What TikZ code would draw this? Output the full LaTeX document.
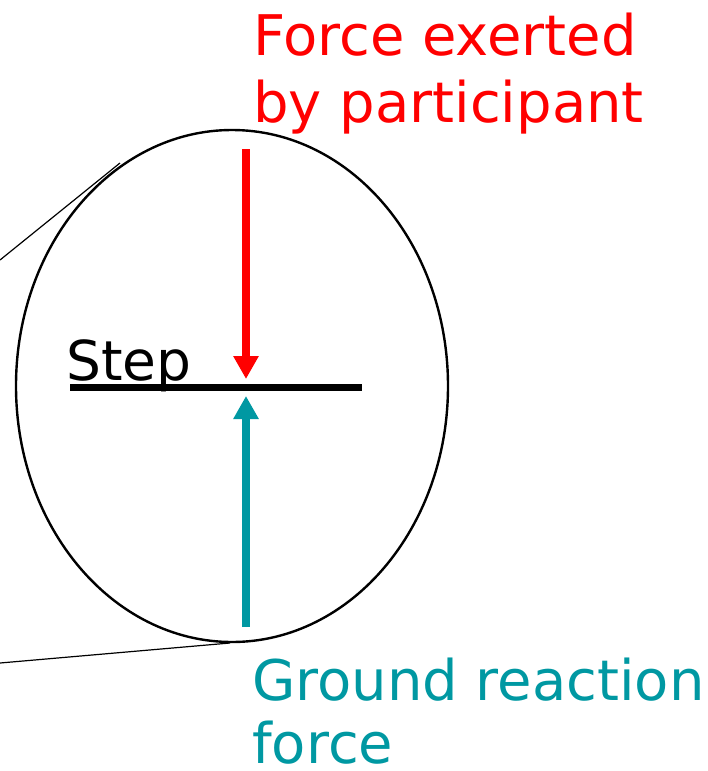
\documentclass[tikz,border=0pt]{standalone}
\usepackage{fontspec}
\setmainfont{DejaVu Sans}
\usetikzlibrary{arrows.meta}
\definecolor{forcered}{RGB}{255,0,0}
\definecolor{grfteal}{RGB}{0,152,162}
\begin{document}
\begin{tikzpicture}[x=1pt,y=-1pt,
  bigtext/.style={font=\fontsize{56}{66}\selectfont,inner sep=0pt,anchor=base west,text depth=0pt},
  forcearrow/.style={line width=8pt,-{Triangle[length=23pt,width=24pt]}},
  zoomline/.style={line width=1.2pt}]
\useasboundingbox (0,0) rectangle (708,771);
% magnified ellipse
\draw[line width=2.4pt] (232,386) ellipse [x radius=216, y radius=256];
% magnification lines
\coordinate (zl1a) at (0,260);
\coordinate (zl1b) at (120,163);
\coordinate (zl2a) at (0,663);
\coordinate (zl2b) at (230,643);
\draw[zoomline] (zl1a) -- (zl1b);
\draw[zoomline] (zl2a) -- (zl2b);
% step
\coordinate (stepL) at (70,387);
\coordinate (stepR) at (362,387);
\draw[line width=7pt] (stepL) -- (stepR);
\node[bigtext,text=black,font=\fontsize{55}{66}\selectfont] (steplabel) at (66,380) {Step};
% arrows
\coordinate (redtop) at (246,149);
\coordinate (redtip) at (246,379);
\coordinate (tealbot) at (246,627);
\coordinate (tealtip) at (246,396);
\draw[forcearrow,draw=forcered,fill=forcered] (redtop) -- (redtip);
\draw[forcearrow,draw=grfteal,fill=grfteal] (tealbot) -- (tealtip);
% labels
\node[bigtext,text=forcered] (f1) at (253,55) {Force exerted};
\node[bigtext,text=forcered] (f2) at (253,122) {by participant};
\node[bigtext,text=grfteal] (g1) at (252,700) {Ground reaction};
\node[bigtext,text=grfteal] (g2) at (252,763) {force};
\end{tikzpicture}
\end{document}
